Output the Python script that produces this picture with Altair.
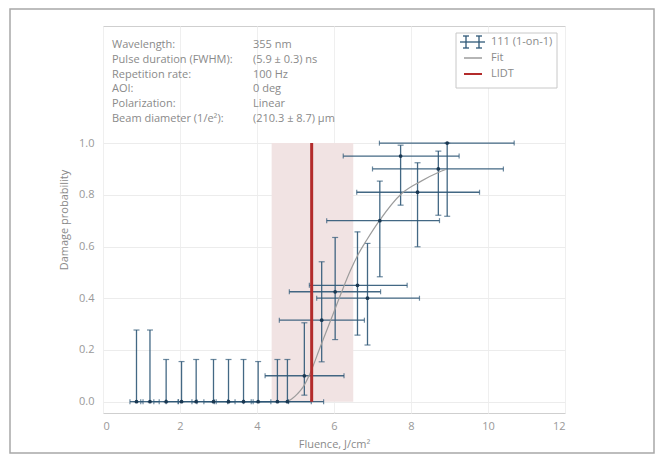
import altair as alt
import pandas as pd

# ---- data ----
fluence = [0.87, 1.22, 1.64, 2.04, 2.42, 2.87, 3.26, 3.65, 4.03, 4.53, 4.79,
           5.23, 5.68, 6.03, 6.61, 6.87, 7.19, 7.73, 8.17, 8.71, 8.94]
prob = [0.0, 0.0, 0.0, 0.0, 0.0, 0.0, 0.0, 0.0, 0.0, 0.0, 0.0,
        0.10, 0.315, 0.425, 0.45, 0.40, 0.70, 0.95, 0.81, 0.90, 1.0]
fluence_lo = [0.70, 0.98, 1.32, 1.64, 1.95, 2.31, 2.62, 2.94, 3.24, 3.65, 3.85,
              4.21, 4.58, 4.84, 5.36, 5.55, 5.81, 6.24, 6.59, 7.00, 7.18]
fluence_hi = [1.04, 1.46, 1.96, 2.44, 2.89, 3.43, 3.90, 4.36, 4.82, 5.41, 5.73,
              6.26, 6.79, 7.21, 7.90, 8.22, 8.74, 9.25, 9.78, 10.40, 10.68]
prob_lo = [0.0, 0.0, 0.0, 0.0, 0.0, 0.0, 0.0, 0.0, 0.0, 0.0, 0.0,
           0.025, 0.154, 0.24, 0.257, 0.219, 0.483, 0.76, 0.599, 0.721, 0.717]
prob_hi = [0.277, 0.277, 0.163, 0.155, 0.163, 0.163, 0.163, 0.163, 0.155, 0.163, 0.163,
           0.305, 0.541, 0.635, 0.657, 0.612, 0.853, 0.992, 0.924, 0.969, 1.0]

fit_x = [4.78, 4.90, 5.05, 5.20, 5.38, 5.64, 5.98, 6.20, 6.42, 6.63, 6.85, 7.18,
         7.76, 8.23, 8.75, 8.90]
fit_y = [0.0, 0.01, 0.03, 0.057, 0.11, 0.21, 0.34, 0.425, 0.505, 0.57, 0.625, 0.70,
         0.805, 0.85, 0.889, 0.898]

lidt = [5.42]
lidt_range = [4.38, 6.50]
lidt_prob = [0.0, 1.0]

info_keys = ["Wavelength:", "Pulse duration (FWHM):", "Repetition rate:", "AOI:",
             "Polarization:", "Beam diameter (1/e²):"]
info_vals = ["355 nm", "(5.9 ± 0.3) ns", "100 Hz", "0 deg", "Linear", "(210.3 ± 8.7) µm"]

legend_labels = ["111 (1-on-1)", "Fit", "LIDT"]

x_ticks = [0, 2, 4, 6, 8, 10, 12]
y_ticks = [0.0, 0.2, 0.4, 0.6, 0.8, 1.0]

# ---- styling ----
W, H = 462, 387
FONT = "Open Sans"
TXT = "#8a8a8a"
BAR = "#2f5877"
DOT = "#1a3852"
FIT = "#9c9c9c"
RED = "#b32b2b"
SHADE = "#f1e3e3"

pts = pd.DataFrame({"f": fluence, "p": prob, "flo": fluence_lo, "fhi": fluence_hi,
                    "plo": prob_lo, "phi": prob_hi})
fit = pd.DataFrame({"f": fit_x, "p": fit_y})
band = pd.DataFrame({"a": [lidt_range[0]], "b": [lidt_range[1]],
                     "y0": [lidt_prob[0]], "y1": [lidt_prob[1]]})
lid = pd.DataFrame({"f": lidt, "y0": [lidt_prob[0]], "y1": [lidt_prob[1]]})

xs = alt.Scale(domain=[0, 12], nice=False, zero=False)
ys = alt.Scale(domain=[-0.044, 1.453], nice=False, zero=False)

xaxis = alt.Axis(values=x_ticks, format="d", title="Fluence, J/cm²", grid=True,
                 gridColor="#efefef", ticks=False, labelPadding=7, titlePadding=7,
                 domain=False)
yaxis = alt.Axis(values=y_ticks, format=".1f", title="Damage probability", grid=True,
                 gridColor="#ececec", ticks=False, labelPadding=9, titlePadding=9,
                 domain=False)

shade = alt.Chart(band).mark_rect(color=SHADE).encode(
    x=alt.X("a:Q", scale=xs, axis=xaxis), x2="b:Q",
    y=alt.Y("y0:Q", scale=ys, axis=yaxis), y2="y1:Q")

one = pd.DataFrame({"k": [0]})

# outer frame (decorative panel border)
frame = alt.Chart(one).mark_rect(
    fill="transparent", stroke="#a8a8a8", strokeWidth=1.5
).encode(x=alt.value(-93), x2=alt.value(551), y=alt.value(-17), y2=alt.value(427))

hbar = alt.Chart(pts).mark_rule(color=BAR, strokeWidth=1.3, opacity=0.9).encode(
    x=alt.X("flo:Q", scale=xs), x2="fhi:Q", y=alt.Y("p:Q", scale=ys))
vbar = alt.Chart(pts).mark_rule(color=BAR, strokeWidth=1.3, opacity=0.9).encode(
    x=alt.X("f:Q", scale=xs), y=alt.Y("plo:Q", scale=ys), y2="phi:Q")

cap_top = alt.Chart(pts).mark_tick(orient="horizontal", size=6, thickness=1.2, color=BAR).encode(
    x=alt.X("f:Q", scale=xs), y=alt.Y("phi:Q", scale=ys))
cap_bot = alt.Chart(pts).mark_tick(orient="horizontal", size=6, thickness=1.2, color=BAR).encode(
    x=alt.X("f:Q", scale=xs), y=alt.Y("plo:Q", scale=ys))
cap_l = alt.Chart(pts).mark_tick(orient="vertical", size=5, thickness=1.2, color=BAR).encode(
    x=alt.X("flo:Q", scale=xs), y=alt.Y("p:Q", scale=ys))
cap_r = alt.Chart(pts).mark_tick(orient="vertical", size=5, thickness=1.2, color=BAR).encode(
    x=alt.X("fhi:Q", scale=xs), y=alt.Y("p:Q", scale=ys))

dots = alt.Chart(pts).mark_circle(color=DOT, size=14, opacity=1).encode(
    x=alt.X("f:Q", scale=xs), y=alt.Y("p:Q", scale=ys))

fitline = alt.Chart(fit).mark_line(color=FIT, strokeWidth=1.2, interpolate="monotone").encode(
    x=alt.X("f:Q", scale=xs), y=alt.Y("p:Q", scale=ys))

lidtline = alt.Chart(lid).mark_rule(color=RED, strokeWidth=3).encode(
    x=alt.X("f:Q", scale=xs), y=alt.Y("y0:Q", scale=ys), y2="y1:Q")

# info text block
info_layers = []
for i, (k, v) in enumerate(zip(info_keys, info_vals)):
    yy = 19 + 14.8 * i
    info_layers.append(alt.Chart(one).mark_text(
        text=k, align="left", baseline="middle", font=FONT, fontSize=11, color=TXT
    ).encode(x=alt.value(9), y=alt.value(yy)))
    info_layers.append(alt.Chart(one).mark_text(
        text=v, align="left", baseline="middle", font=FONT, fontSize=11, color=TXT
    ).encode(x=alt.value(150), y=alt.value(yy)))

# legend
leg = [
    alt.Chart(one).mark_rect(fill="white", stroke="#c8c8c8", strokeWidth=1).encode(
        x=alt.value(353), x2=alt.value(454), y=alt.value(7), y2=alt.value(62)),
    alt.Chart(one).mark_rule(color=BAR, strokeWidth=1.3).encode(
        x=alt.value(357), x2=alt.value(382), y=alt.value(16)),
    alt.Chart(one).mark_rule(color=BAR, strokeWidth=1.3).encode(
        x=alt.value(363), y=alt.value(10), y2=alt.value(22)),
    alt.Chart(one).mark_rule(color=BAR, strokeWidth=1.3).encode(
        x=alt.value(376), y=alt.value(10), y2=alt.value(22)),
    alt.Chart(one).mark_rule(color=BAR, strokeWidth=1.3).encode(
        x=alt.value(360), x2=alt.value(366), y=alt.value(10)),
    alt.Chart(one).mark_rule(color=BAR, strokeWidth=1.3).encode(
        x=alt.value(373), x2=alt.value(379), y=alt.value(10)),
    alt.Chart(one).mark_rule(color=BAR, strokeWidth=1.3).encode(
        x=alt.value(360), x2=alt.value(366), y=alt.value(22)),
    alt.Chart(one).mark_rule(color=BAR, strokeWidth=1.3).encode(
        x=alt.value(373), x2=alt.value(379), y=alt.value(22)),
    alt.Chart(one).mark_rule(color=FIT, strokeWidth=1.5).encode(
        x=alt.value(361), x2=alt.value(379), y=alt.value(32)),
    alt.Chart(one).mark_rule(color=RED, strokeWidth=2).encode(
        x=alt.value(361), x2=alt.value(379), y=alt.value(48)),
]
for i, lab in enumerate(legend_labels):
    leg.append(alt.Chart(one).mark_text(
        text=lab, align="left", baseline="middle", font=FONT, fontSize=11, color=TXT
    ).encode(x=alt.value(388), y=alt.value(16 + 16 * i)))

chart = alt.layer(
    shade, frame, hbar, vbar, cap_top, cap_bot, cap_l, cap_r, fitline, lidtline, dots,
    *info_layers, *leg
).properties(
    width=W, height=H,
    autosize=alt.AutoSizeParams(type="none"),
    padding={"left": 95, "top": 18, "right": 90, "bottom": 41},
    background="white",
).configure_view(
    stroke="#cfcfcf", strokeWidth=1
).configure_axis(
    labelFont=FONT, titleFont=FONT, labelFontSize=11, titleFontSize=11,
    labelColor="#999999", titleColor=TXT, titleFontWeight="normal"
)

chart.save("out.html", embed_options={"renderer": "svg", "actions": False})
